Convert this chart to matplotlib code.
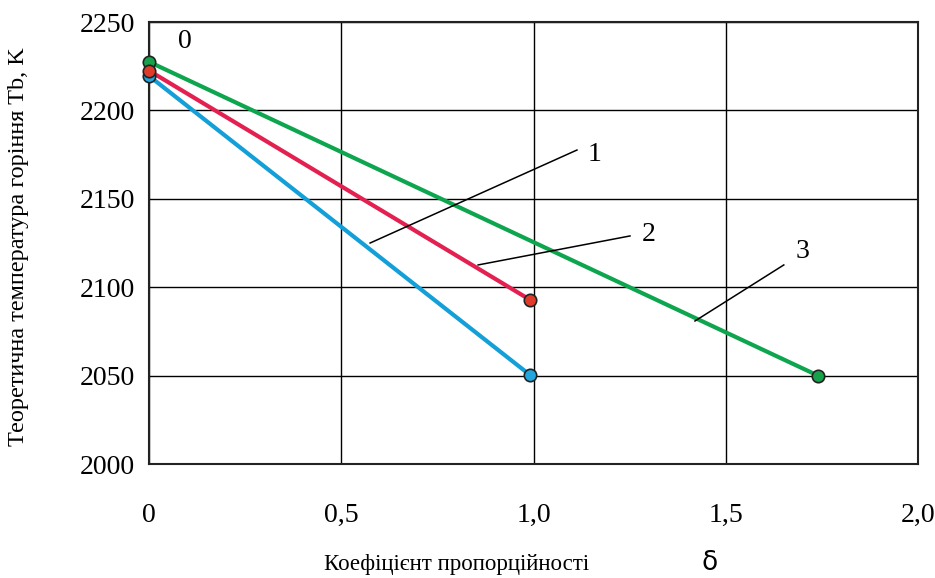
import matplotlib
matplotlib.use("Agg")
import matplotlib.pyplot as plt

# дані
delta_blue = [0.0, 0.99]
tb_blue = [2219.5, 2050.5]
delta_red = [0.0, 0.99]
tb_red = [2222.5, 2093.0]
delta_green = [0.0, 1.74]
tb_green = [2227.5, 2050.0]

x_ticks = [0, 0.5, 1.0, 1.5, 2.0]
x_tick_labels = ["0", "0,5", "1,0", "1,5", "2,0"]
y_ticks = [2000, 2050, 2100, 2150, 2200, 2250]

# виноски: (текст, точка на лінії, кінець виноски, позиція тексту)
callouts = [
    ("1", (0.575, 2125.0), (1.113, 2177.6), (1.160, 2175.0)),
    ("2", (0.856, 2112.6), (1.251, 2129.0), (1.300, 2130.0)),
    ("3", (1.420, 2080.9), (1.651, 2112.6), (1.700, 2120.0)),
]

plt.rcParams['font.family'] = ['Liberation Serif', 'DejaVu Serif']

fig = plt.figure(figsize=(9.35, 5.78), dpi=100)
ax = fig.add_axes([0.1594, 0.1972, 0.8224, 0.7647])

ax.set_xlim(0, 2.0)
ax.set_ylim(2000, 2250)
ax.set_xticks(x_ticks)
ax.set_xticklabels(x_tick_labels)
ax.set_yticks(y_ticks)
ax.tick_params(length=0, labelsize=20)
ax.tick_params(axis='x', pad=28)
ax.tick_params(axis='y', pad=10)
ax.grid(True, color='black', linewidth=1.0)
for sp in ax.spines.values():
    sp.set_linewidth(1.5)
    sp.set_color('#222222')

ax.plot(delta_green, tb_green, color='#0ea54f', lw=3.0, zorder=3)
ax.plot(delta_red, tb_red, color='#e3204f', lw=3.0, zorder=3)
ax.plot(delta_blue, tb_blue, color='#139fd8', lw=3.0, zorder=3)

ax.scatter(delta_green, tb_green, s=80, color='#15a24b', edgecolor='#222222', lw=1.2, zorder=5, clip_on=False)
ax.scatter(delta_blue, tb_blue, s=80, color='#21a6de', edgecolor='#222222', lw=1.2, zorder=5, clip_on=False)
ax.scatter(delta_red, tb_red, s=80, color='#e03a2a', edgecolor='#222222', lw=1.2, zorder=6, clip_on=False)

for label, p0, p1, pt in callouts:
    ax.plot([p0[0], p1[0]], [p0[1], p1[1]], color='black', lw=1.1, zorder=4)
    ax.text(pt[0], pt[1], label, fontsize=20, ha='center', va='center')

ax.text(0.094, 2239, "0", fontsize=20, ha='center', va='center')

ax.set_ylabel("Теоретична температура горіння Tb, K", fontsize=17.5)
ax.yaxis.set_label_coords(-0.156, 0.491)
fig.text(0.488, 0.014, "Коефіцієнт пропорційності", fontsize=16.5, ha='center', va='baseline')
fig.text(0.759, 0.014, "δ", fontsize=19, ha='center', va='baseline', family='DejaVu Sans')

fig.savefig("out.png", dpi=100)
